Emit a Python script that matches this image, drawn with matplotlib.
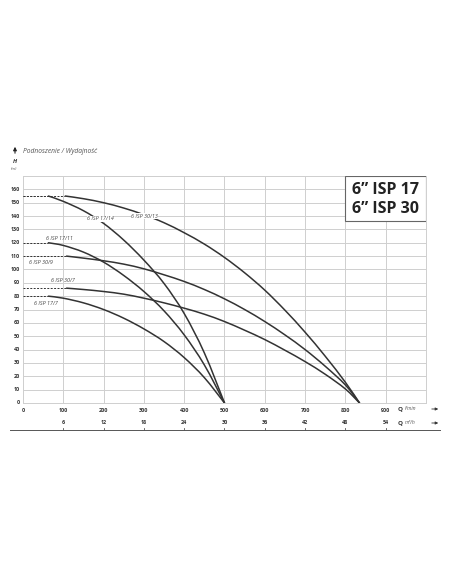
import matplotlib
matplotlib.use("Agg")
import matplotlib.pyplot as plt
from matplotlib.lines import Line2D
from matplotlib.path import Path
from matplotlib.patches import PathPatch, Rectangle, FancyArrowPatch

plt.rcParams['font.family'] = ['Open Sans', 'DejaVu Sans']

# ---- data (Q in l/min, H in m) ----
q17 = [63, 100, 150, 200, 250, 300, 350, 400, 450, 500]
h17_14 = [155, 151, 144, 134.5, 122, 107, 89.5, 67, 37.5, 0]
h17_11 = [120, 118, 113, 105.5, 95.5, 83.5, 69, 51, 28.5, 0]
h17_7 = [80, 78.5, 75, 70, 63.5, 55.5, 46, 34, 19, 0]

q30_13 = [105, 150, 200, 250, 300, 350, 400, 450, 500, 550, 600, 650, 700, 750, 800, 835]
h30_13 = [155, 153, 150, 146, 141, 135, 127.5, 119, 109, 97.5, 84.5, 69.5, 53, 35, 15.5, 0]
q30 = [108, 150, 200, 250, 300, 350, 400, 450, 500, 550, 600, 650, 700, 750, 800, 835]
h30_9 = [110, 108.5, 106.5, 104, 100.5, 96, 91, 85, 78, 70, 61, 51, 40, 27.5, 13.5, 0]
h30_7 = [86, 85, 83.5, 81.5, 78.5, 75, 71, 66.5, 61, 54.5, 47.5, 39.5, 31, 21.5, 10.5, 0]

curve_names = ["6 ISP 17/14", "6 ISP 17/11", "6 ISP 17/7", "6 ISP 30/13", "6 ISP 30/9", "6 ISP 30/7"]
x_ticks_lmin = [0, 100, 200, 300, 400, 500, 600, 700, 800, 900]
x_ticks_m3h = [6, 12, 18, 24, 30, 36, 42, 48, 54]
y_ticks = list(range(0, 161, 10))

curves = [(q17, h17_14), (q17, h17_11), (q17, h17_7),
          (q30_13, h30_13), (q30, h30_9), (q30, h30_7)]


def smooth_path(xs, ys):
    """Catmull-Rom spline through the read points, drawn as cubic Bezier segments."""
    pts = list(zip(xs, ys))
    verts = [pts[0]]
    codes = [Path.MOVETO]
    n = len(pts)
    for i in range(n - 1):
        p0 = pts[i - 1] if i > 0 else pts[i]
        p1 = pts[i]
        p2 = pts[i + 1]
        p3 = pts[i + 2] if i + 2 < n else pts[i + 1]
        c1 = (p1[0] + (p2[0] - p0[0]) / 6, p1[1] + (p2[1] - p0[1]) / 6)
        c2 = (p2[0] - (p3[0] - p1[0]) / 6, p2[1] - (p3[1] - p1[1]) / 6)
        verts += [c1, c2, p2]
        codes += [Path.CURVE4] * 3
    return Path(verts, codes)


fig = plt.figure(figsize=(4.52, 5.84), dpi=100)
fig.patch.set_facecolor('white')
ax = fig.add_axes([23 / 452, 1 - 403 / 584, 403 / 452, 227 / 584])
ax.set_xlim(0, 1000)
ax.set_ylim(0, 170)

grid_c = '#cfcfcf'
ax.set_xticks(range(0, 1001, 100))
ax.set_yticks(range(0, 171, 10))
ax.grid(True, color=grid_c, lw=0.7)
for s in ax.spines.values():
    s.set_color(grid_c)
    s.set_linewidth(0.7)
ax.tick_params(length=0, labelbottom=False, labelleft=False)

line_c = '#333333'
for (qs, hs) in curves:
    ax.add_patch(PathPatch(smooth_path(qs, hs), facecolor='none', edgecolor=line_c,
                           lw=1.1, capstyle='round', zorder=3))
    ax.plot([0, qs[0]], [hs[0], hs[0]], color=line_c, lw=0.7, ls=(0, (2, 1.5)), zorder=3)

# curve labels
lab_kw = dict(fontsize=3.9, style='italic', color='#444444', ha='center', va='center', zorder=5)
bbox_w = dict(facecolor='white', edgecolor='none', pad=0.2)
ax.text(193, 138, curve_names[0], bbox=bbox_w, **lab_kw)
ax.text(90, 123.5, curve_names[1], **lab_kw)
ax.text(58, 74.5, curve_names[2], **lab_kw)
ax.text(302, 140, curve_names[3], bbox=bbox_w, **lab_kw)
ax.text(44, 105.5, curve_names[4], **lab_kw)
ax.text(98, 92, curve_names[5], **lab_kw)

# y tick labels
for v in y_ticks:
    ax.text(-8, v, str(v), fontsize=3.9, fontweight='bold', color='#333333',
            ha='right', va='center', clip_on=False)

# x tick labels (l/min)
for v in x_ticks_lmin:
    ax.annotate(str(v), xy=(v, 0), xycoords='data', xytext=(0, -7),
                textcoords='offset pixels', fontsize=3.9, fontweight='bold',
                color='#333333', ha='center', va='center', annotation_clip=False)

# second row (m3/h)
for i, v in enumerate(x_ticks_m3h):
    qpos = x_ticks_lmin[i + 1]
    ax.annotate(str(v), xy=(qpos, 0), xycoords='data', xytext=(0, -20),
                textcoords='offset pixels', fontsize=3.9, fontweight='bold',
                color='#333333', ha='center', va='center', annotation_clip=False)
    ax.plot([qpos, qpos], [-27 / 1.34, -25 / 1.34], color='#555555', lw=0.6, clip_on=False)

ax.add_line(Line2D([-13 / 403, 417 / 403], [-27 / 227, -27 / 227], transform=ax.transAxes,
                   color='#555555', lw=0.7, clip_on=False))

# axis unit labels
fig.text(398 / 452, 1 - 409 / 584, 'Q', fontsize=4.5, fontweight='bold', color='#333333', va='center')
fig.text(405 / 452, 1 - 409 / 584, 'l/min', fontsize=3.6, style='italic', color='#555555', va='center')
fig.text(398 / 452, 1 - 423 / 584, 'Q', fontsize=4.5, fontweight='bold', color='#333333', va='center')
fig.text(405 / 452, 1 - 423 / 584, 'm³/h', fontsize=3.6, style='italic', color='#555555', va='center')
for yy in (409, 423):
    fig.add_artist(FancyArrowPatch(
        (429 / 452, 1 - yy / 584), (441 / 452, 1 - yy / 584), transform=fig.transFigure,
        arrowstyle='-|>', mutation_scale=4, color='#333333', lw=0.6))

# top labels
fig.add_artist(FancyArrowPatch(
    (15 / 452, 1 - 156 / 584), (15 / 452, 1 - 144 / 584), transform=fig.transFigure,
    arrowstyle='-|>', mutation_scale=5, color='#222222', lw=0.8))
fig.text(23 / 452, 1 - 152 / 584, 'Podnoszenie / Wydajność', fontsize=4.8, style='italic',
         color='#555555', va='center')
fig.text(14.5 / 452, 1 - 161.5 / 584, 'H', fontsize=4.2, style='italic', fontweight='bold',
         color='#333333', va='center', ha='center')
fig.text(14.5 / 452, 1 - 168.5 / 584, '(m)', fontsize=3.2, style='italic',
         color='#555555', va='center', ha='center')

# title box
ax.add_patch(Rectangle((800, 136), 200, 34, facecolor='white',
                       edgecolor='#666666', lw=0.8, zorder=6))
box_kw = dict(fontsize=11.5, fontweight='bold', fontstretch='normal', family=['Open Sans', 'DejaVu Sans'],
              color='#222222', ha='center', va='center', zorder=7)
ax.text(900, 159.5, '6” ISP 17', **box_kw)
ax.text(900, 145.3, '6” ISP 30', **box_kw)

fig.savefig('out.png', dpi=100, facecolor='white')
